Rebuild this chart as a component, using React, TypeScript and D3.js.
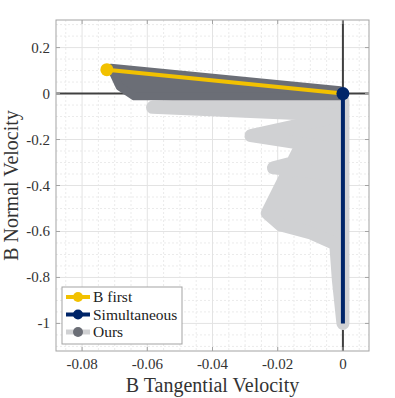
import { useEffect, useRef } from 'react';
import * as d3 from 'd3';

// B first: straight path from start point to origin
const bFirstX = [-0.0724, 0];
const bFirstY = [0.104, 0];

// Simultaneous: drops straight down from origin
const simX = [0, 0];
const simY = [0, -1];

// Ours: light trace (wide band) and dark marker trail
const oursX = [0, -0.0584, 0, -0.0282, 0, -0.0213, 0, -0.0135, -0.0232, -0.019, -0.0101, -0.0022, -0.0014, 0];
const oursY = [-0.03, -0.06, -0.095, -0.183, -0.245, -0.323, -0.355, -0.245, -0.52, -0.572, -0.605, -0.655, -0.81, -1.0];
const oursDarkX = [-0.0712, -0.0008, -0.0008, -0.064, -0.0685];
const oursDarkY = [0.112, 0.014, -0.012, -0.012, 0.03];

const xTicks = [-0.08, -0.06, -0.04, -0.02, 0];
const yTicks = [-1, -0.8, -0.6, -0.4, -0.2, 0, 0.2];
const legendLabels = ['B first', 'Simultaneous', 'Ours'];

const YELLOW = '#f2c100';
const NAVY = '#002569';
const DARK = '#6b6e76';
const LIGHT = '#d0d1d3';

const App = () => {
  const svgRef = useRef<SVGSVGElement>(null);

  useEffect(() => {
    const svg = d3.select(svgRef.current);
    svg.selectAll('*').remove();

    const left = 56, right = 369, top = 20, bottom = 351;
    const x = d3.scaleLinear().domain([-0.088, 0.008]).range([left, right]);
    const y = d3.scaleLinear().domain([-1.12, 0.32]).range([bottom, top]);
    const font = '"Liberation Serif", serif';

    svg.append('rect')
      .attr('x', left).attr('y', top)
      .attr('width', right - left).attr('height', bottom - top)
      .attr('fill', '#fff');

    // minor grid
    const g = svg.append('g');
    d3.range(-0.085, 0.0076, 0.005).forEach(v => {
      if (Math.abs(v / 0.02 - Math.round(v / 0.02)) < 1e-6) return;
      g.append('line')
        .attr('x1', x(v)).attr('x2', x(v)).attr('y1', top).attr('y2', bottom)
        .attr('stroke', '#ebebeb').attr('stroke-dasharray', '2,2');
    });
    d3.range(-1.1, 0.32, 0.05).forEach(v => {
      if (Math.abs(v / 0.2 - Math.round(v / 0.2)) < 1e-6) return;
      g.append('line')
        .attr('x1', left).attr('x2', right).attr('y1', y(v)).attr('y2', y(v))
        .attr('stroke', '#ebebeb').attr('stroke-dasharray', '2,2');
    });
    // major grid
    xTicks.forEach(v => {
      g.append('line')
        .attr('x1', x(v)).attr('x2', x(v)).attr('y1', top).attr('y2', bottom)
        .attr('stroke', '#e3e3e3');
    });
    yTicks.forEach(v => {
      g.append('line')
        .attr('x1', left).attr('x2', right).attr('y1', y(v)).attr('y2', y(v))
        .attr('stroke', '#e3e3e3');
    });

    // zero lines
    svg.append('line')
      .attr('x1', left).attr('x2', right).attr('y1', y(0)).attr('y2', y(0))
      .attr('stroke', '#404040').attr('stroke-width', 2);
    svg.append('line')
      .attr('x1', x(0)).attr('x2', x(0)).attr('y1', top).attr('y2', bottom)
      .attr('stroke', '#404040').attr('stroke-width', 2);

    const line = d3.line<number>().x(i => x(oursX[i])).y(i => y(oursY[i]));

    // Ours light band
    svg.append('path')
      .attr('d', line.curve(d3.curveLinearClosed)(d3.range(oursX.length)))
      .attr('fill', LIGHT)
      .attr('stroke', LIGHT)
      .attr('stroke-width', 13)
      .attr('stroke-linejoin', 'round')
      .attr('stroke-linecap', 'round');

    // Ours dark trail
    const darkLine = d3.line<number>()
      .x(i => x(oursDarkX[i])).y(i => y(oursDarkY[i]))
      .curve(d3.curveLinearClosed);
    svg.append('path')
      .attr('d', darkLine(d3.range(oursDarkX.length)))
      .attr('fill', DARK)
      .attr('stroke', DARK)
      .attr('stroke-width', 8)
      .attr('stroke-linejoin', 'round');

    // Simultaneous
    const simLine = d3.line<number>().x(i => x(simX[i])).y(i => y(simY[i]));
    svg.append('path')
      .attr('d', simLine(d3.range(simX.length)))
      .attr('fill', 'none').attr('stroke', NAVY).attr('stroke-width', 4);

    // B first
    const bLine = d3.line<number>().x(i => x(bFirstX[i])).y(i => y(bFirstY[i]));
    svg.append('path')
      .attr('d', bLine(d3.range(bFirstX.length)))
      .attr('fill', 'none').attr('stroke', YELLOW).attr('stroke-width', 4);

    svg.append('circle')
      .attr('cx', x(bFirstX[0])).attr('cy', y(bFirstY[0])).attr('r', 6.5)
      .attr('fill', YELLOW);
    svg.append('circle')
      .attr('cx', x(simX[0])).attr('cy', y(simY[0])).attr('r', 6.5)
      .attr('fill', NAVY);

    // box + ticks
    svg.append('rect')
      .attr('x', left).attr('y', top)
      .attr('width', right - left).attr('height', bottom - top)
      .attr('fill', 'none').attr('stroke', '#a3a3a3').attr('stroke-width', 1);
    const tl = 4;
    xTicks.forEach(v => {
      svg.append('line').attr('x1', x(v)).attr('x2', x(v)).attr('y1', bottom).attr('y2', bottom - tl)
        .attr('stroke', '#a3a3a3');
      svg.append('line').attr('x1', x(v)).attr('x2', x(v)).attr('y1', top).attr('y2', top + tl)
        .attr('stroke', '#a3a3a3');
      svg.append('text')
        .attr('x', x(v)).attr('y', 369)
        .attr('text-anchor', 'middle')
        .style('font-family', font).style('font-size', '15px')
        .attr('fill', '#333')
        .text(v === 0 ? '0' : d3.format('.2f')(v).replace('−', '-'));
    });
    yTicks.forEach(v => {
      svg.append('line').attr('x1', left).attr('x2', left + tl).attr('y1', y(v)).attr('y2', y(v))
        .attr('stroke', '#a3a3a3');
      svg.append('line').attr('x1', right).attr('x2', right - tl).attr('y1', y(v)).attr('y2', y(v))
        .attr('stroke', '#a3a3a3');
      svg.append('text')
        .attr('x', 50).attr('y', y(v) + 5)
        .attr('text-anchor', 'end')
        .style('font-family', font).style('font-size', '15px')
        .attr('fill', '#333')
        .text(String(v).replace('−', '-'));
    });

    // axis labels
    svg.append('text')
      .attr('x', (left + right) / 2).attr('y', 392)
      .attr('text-anchor', 'middle')
      .style('font-family', font).style('font-size', '20px')
      .attr('fill', '#333')
      .text('B Tangential Velocity');
    svg.append('text')
      .attr('transform', `translate(18,${(top + bottom) / 2}) rotate(-90)`)
      .attr('text-anchor', 'middle')
      .style('font-family', font).style('font-size', '20px')
      .attr('fill', '#333')
      .text('B Normal Velocity');

    // legend
    const lg = svg.append('g');
    lg.append('rect')
      .attr('x', 62).attr('y', 287).attr('width', 120).attr('height', 57)
      .attr('fill', '#fff').attr('stroke', '#a3a3a3');
    const lineColors = [YELLOW, NAVY, LIGHT];
    const markColors = [YELLOW, NAVY, DARK];
    legendLabels.forEach((lab, i) => {
      const ly = 297 + i * 17.5;
      lg.append('line')
        .attr('x1', 66).attr('x2', 90).attr('y1', ly).attr('y2', ly)
        .attr('stroke', lineColors[i]).attr('stroke-width', i === 2 ? 5 : 4);
      lg.append('circle')
        .attr('cx', 78).attr('cy', ly).attr('r', 5)
        .attr('fill', markColors[i]);
      lg.append('text')
        .attr('x', 93).attr('y', ly + 5)
        .style('font-family', font).style('font-size', '15.5px')
        .attr('fill', '#222')
        .text(lab);
    });
  }, []);

  return (
    <svg
      ref={svgRef}
      width={395}
      height={398}
      style={{ position: 'absolute', left: 0, top: 0, background: '#fff' }}
    />
  );
};

export default App;
